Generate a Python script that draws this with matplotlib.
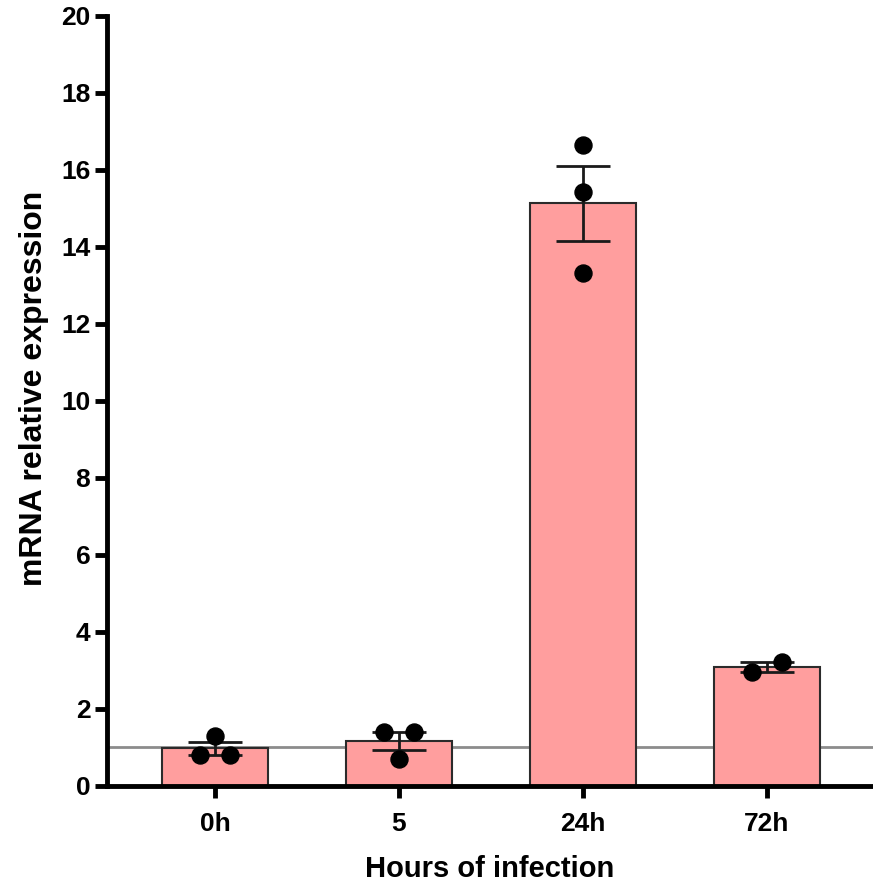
import matplotlib.pyplot as plt
import numpy as np

plt.rcParams['font.family'] = ['Liberation Sans', 'DejaVu Sans']
plt.rcParams['font.weight'] = 'bold'

groups = ['0h', '5', '24h', '72h']
reps = [
    [1.30, 0.81, 0.81],
    [1.39, 1.39, 0.70],
    [16.65, 15.42, 13.33],
    [2.95, 3.23],
]
# horizontal spread of the replicate dots within each bar
offsets = [
    [0.0, -0.08, 0.08],
    [-0.08, 0.08, 0.0],
    [0.0, 0.0, 0.0],
    [-0.08, 0.08],
]

means = [np.mean(r) for r in reps]
sems = [np.std(r, ddof=1) / np.sqrt(len(r)) for r in reps]
x = np.arange(len(groups))

fig = plt.figure(figsize=(8.73, 8.86), dpi=100)
ax = fig.add_axes([0.1226, 0.1129, 0.8774, 0.8691])

ax.axhline(1, color='#8c8c8c', lw=2, zorder=1)
ax.bar(x, means, width=0.58, color='#ff9e9e', edgecolor='#2b2b2b', lw=1.5, zorder=2)
ax.errorbar(x, means, yerr=sems, fmt='none', ecolor='#1a1a1a', elinewidth=2,
            capsize=19.5, capthick=2, zorder=3)
for i, r in enumerate(reps):
    ax.scatter(x[i] + np.array(offsets[i]), r, s=150, color='black', zorder=4)

ax.set_xlim(-0.587, 3.576)
ax.set_ylim(0, 20)
ax.set_yticks(np.arange(0, 21, 2))
ax.set_xticks(x)
ax.set_xticklabels(groups)
ax.tick_params(axis='both', width=3.5, length=8.5, labelsize=19)
ax.tick_params(axis='x', pad=10)
for s in ['top', 'right']:
    ax.spines[s].set_visible(False)
for s in ['left', 'bottom']:
    ax.spines[s].set_linewidth(3.5)
ax.set_xlabel('Hours of infection', fontsize=21, fontweight='bold', labelpad=14)
ax.set_ylabel('mRNA relative expression', fontsize=23, fontweight='bold')
ax.yaxis.set_label_coords(-0.076, 0.516)

fig.savefig('out.png', dpi=100)
